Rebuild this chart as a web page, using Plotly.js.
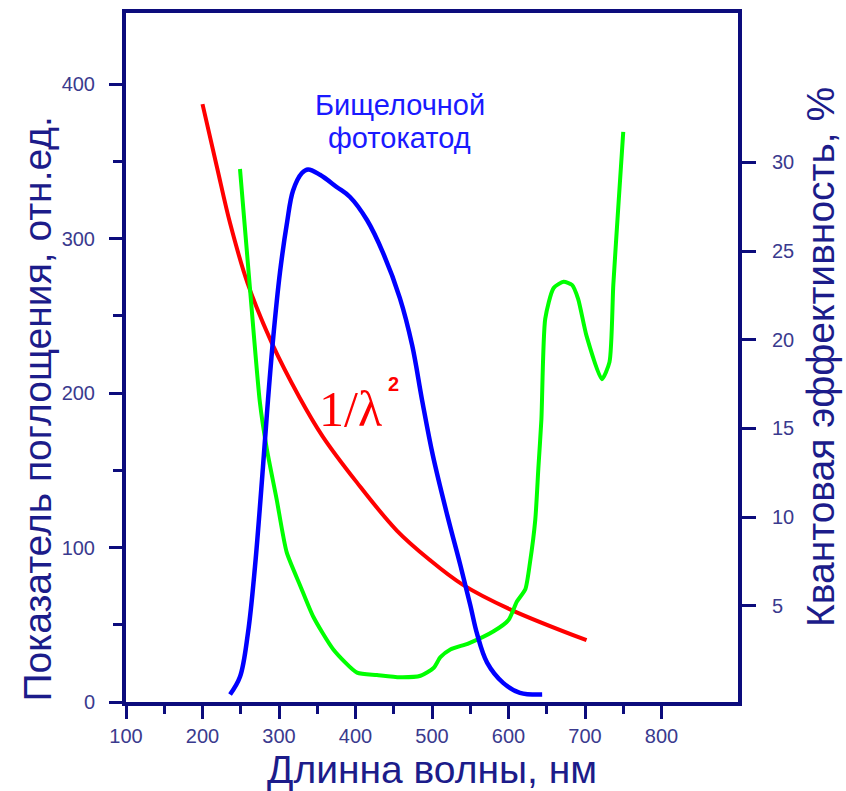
<!DOCTYPE html>
<html>
<head>
<meta charset="utf-8">
<script src="https://cdn.plot.ly/plotly-3.0.1.min.js"></script>
<style>html,body{margin:0;padding:0;background:#fff;}#chart{width:846px;height:791px;}</style>
</head>
<body>
<div id="chart"></div>
<script>
// Wavelengths (nm) and values
const wlRed = [200, 219, 236, 259, 291, 327, 357, 402, 454, 497, 540, 602, 702];
const redInvLambda2 = [387, 346, 310, 271, 232, 197, 172, 142, 111, 92, 76, 60, 40];

const wlGreen = [249, 262, 275, 284, 297, 310, 328, 345, 371, 402, 428, 458, 485, 502, 511, 524, 548, 580, 600, 611, 622, 628, 635, 639, 643, 648, 659, 672, 683, 691, 702, 722, 732, 737, 744, 750];
const greenAbsorption = [345, 268, 194, 164, 131, 97, 75, 55, 34, 19, 17.5, 16, 17, 22, 29, 34, 38, 45.6, 53, 65, 73, 90, 118, 151, 183, 248, 268, 272, 270, 261, 237, 209, 220, 270, 324, 369];

const wlBlue = [236, 249, 259.5, 268.6, 279, 285.6, 292.2, 301.3, 310.5, 318.3, 330, 338, 353.6, 375.8, 392.8, 415, 436, 458, 474, 487, 501, 520, 537, 550, 559, 572, 593, 615, 644];
const blueQE = [0, 1.0, 3.5, 7.2, 12.8, 16.6, 20.0, 23.8, 26.6, 28.4, 29.4, 29.6, 29.3, 28.6, 28.05, 26.75, 24.9, 22.35, 19.7, 16.6, 13.5, 10.1, 7.3, 5.05, 3.4, 1.8, 0.66, 0.1, 0];

const xTicks = [100, 200, 300, 400, 500, 600, 700, 800];
const xMinorTicks = [150, 250, 350, 450, 550, 650, 750];
const yTicks = [0, 100, 200, 300, 400];
const yMinorTicks = [50, 150, 250, 350];
const y2Ticks = [5, 10, 15, 20, 25, 30];

const xTitle = 'Длинна волны, нм';
const yTitle = 'Показатель поглощения, отн.ед.';
const y2Title = 'Квантовая эффективность, %';
const cathodeLabel1 = 'Бищелочной';
const cathodeLabel2 = 'фотокатод';
const curveLabel = '1/λ';
const curveLabelPower = '<b>2</b>';

const AX = '#0c0c7c';
const SANS = 'Liberation Sans, Arial, sans-serif';
const TICKF = {family: SANS, size: 20, color: '#3a3a8e'};
const TITLEF = {family: SANS, size: 39, color: '#1c1c8a'};

const traces = [
  {x: wlRed, y: redInvLambda2, type: 'scatter', mode: 'lines', line: {color: '#ff0000', width: 4, shape: 'spline'}, xaxis: 'x', yaxis: 'y', hoverinfo: 'skip'},
  {x: wlGreen, y: greenAbsorption, type: 'scatter', mode: 'lines', line: {color: '#00ff00', width: 4, shape: 'spline', smoothing: 0.6}, xaxis: 'x', yaxis: 'y', hoverinfo: 'skip'},
  {x: wlBlue, y: blueQE, type: 'scatter', mode: 'lines', line: {color: '#0000ff', width: 4.5, shape: 'spline'}, xaxis: 'x', yaxis: 'y2', hoverinfo: 'skip'}
];

const layout = {
  width: 846, height: 791,
  margin: {l: 126, r: 108, t: 13, b: 89},
  paper_bgcolor: '#ffffff', plot_bgcolor: '#ffffff',
  showlegend: false,
  xaxis: {
    range: [100, 900], tickmode: 'array', tickvals: xTicks,
    ticks: 'outside', ticklen: 13, tickwidth: 3, tickcolor: AX,
    showline: true, linecolor: AX, linewidth: 4, mirror: true,
    showgrid: false, zeroline: false, tickfont: TICKF, ticklabelstandoff: 0,
    minor: {tickmode: 'array', tickvals: xMinorTicks, ticks: 'outside', ticklen: 8, tickwidth: 3, tickcolor: AX, showgrid: false},
    title: {text: xTitle, font: TITLEF, standoff: 14}
  },
  yaxis: {
    range: [0, 446], tickmode: 'array', tickvals: yTicks,
    ticks: 'outside', ticklen: 13, tickwidth: 3, tickcolor: AX,
    showline: true, linecolor: AX, linewidth: 4,
    showgrid: false, zeroline: false, tickfont: TICKF, ticklabelstandoff: 10,
    minor: {tickmode: 'array', tickvals: yMinorTicks, ticks: 'outside', ticklen: 9, tickwidth: 3, tickcolor: AX, showgrid: false}
  },
  yaxis2: {
    range: [-0.42, 38.42], overlaying: 'y', side: 'right', tickmode: 'array', tickvals: y2Ticks,
    ticks: 'outside', ticklen: 14, tickwidth: 3, tickcolor: AX,
    showline: true, linecolor: AX, linewidth: 4,
    showgrid: false, zeroline: false, tickfont: TICKF, ticklabelstandoff: 12
  },
  annotations: [
    {xref: 'paper', yref: 'paper', x: -0.145, y: 0.425, xanchor: 'center', yanchor: 'middle', textangle: -90, text: yTitle, showarrow: false, font: TITLEF},
    {xref: 'paper', yref: 'paper', x: 1.134, y: 0.5007, xanchor: 'center', yanchor: 'middle', textangle: -90, text: y2Title, showarrow: false, font: TITLEF},
    {xref: 'x', yref: 'y', x: 458, y: 386.6, text: cathodeLabel1, showarrow: false, font: {family: SANS, size: 29, color: '#1a1aff'}},
    {xref: 'x', yref: 'y', x: 458, y: 365, text: cathodeLabel2, showarrow: false, font: {family: SANS, size: 29, color: '#1a1aff'}},
    {xref: 'x', yref: 'y', x: 437.3, y: 189.7, xanchor: 'right', text: curveLabel, showarrow: false, font: {family: 'Liberation Serif, Times New Roman, serif', size: 50, color: '#ff0000'}},
    {xref: 'x', yref: 'y', x: 440.5, y: 206, xanchor: 'left', text: curveLabelPower, showarrow: false, font: {family: SANS, size: 20, color: '#ff0000'}}
  ]
};

Plotly.newPlot('chart', traces, layout, {staticPlot: true, displayModeBar: false});
</script>
</body>
</html>
